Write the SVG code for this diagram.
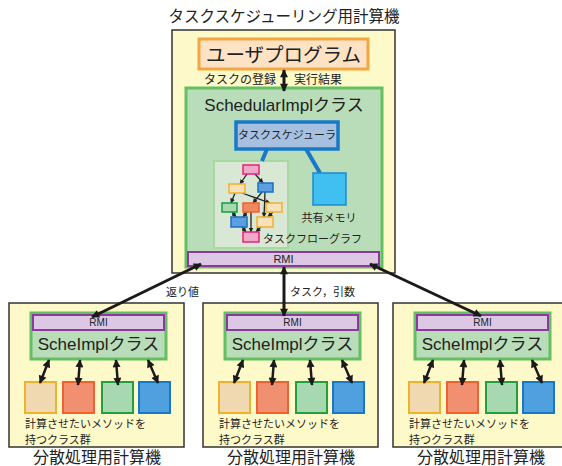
<svg xmlns="http://www.w3.org/2000/svg" width="562" height="466" viewBox="0 0 562 466">
<defs>
<marker id="ah" viewBox="0 0 10 10" refX="9" refY="5" markerWidth="9" markerHeight="8" markerUnits="userSpaceOnUse" orient="auto-start-reverse"><path d="M0,0 L10,5 L0,10 z" fill="#1a1a1a"/></marker>
<marker id="sa" viewBox="0 0 10 10" refX="9" refY="5" markerWidth="5" markerHeight="5" markerUnits="userSpaceOnUse" orient="auto"><path d="M0,0 L10,5 L0,10 z" fill="#222"/></marker>
<style>
text{font-family:"Liberation Sans","Noto Sans CJK JP",sans-serif;fill:#222}
.mc{fill:#fef9c8;stroke:#333;stroke-width:1.5}
.cls{fill:#b9dcb9;stroke:#62bf62;stroke-width:3}
.rmi{fill:#dcc8e4;stroke:#8a3a9a;stroke-width:2}
.big{stroke:#1a1a1a;stroke-width:3;fill:none;marker-start:url(#ah);marker-end:url(#ah)}
.mid{stroke:#1a1a1a;stroke-width:2.5;fill:none;marker-start:url(#ah);marker-end:url(#ah)}
.fe{stroke:#222;stroke-width:1.3;fill:none;marker-end:url(#sa)}
.pk{fill:#f0a8c8;stroke:#e8207a;stroke-width:1.5}
.or{fill:#f8e0b8;stroke:#f0b030;stroke-width:1.5}
.bl{fill:#5aa0e0;stroke:#1a70c0;stroke-width:1.5}
.gr{fill:#a8d8b0;stroke:#10a040;stroke-width:1.5}
.rd{fill:#f08860;stroke:#f06030;stroke-width:1.5}
.s1{fill:#f0d8b0;stroke:#f0b030;stroke-width:2}
.s2{fill:#f09070;stroke:#f06030;stroke-width:2}
.s3{fill:#a8d8b0;stroke:#20a040;stroke-width:2}
.s4{fill:#50a0e0;stroke:#1878c8;stroke-width:2}
</style>
</defs>

<g id="scheduler-machine">
<text x="284" y="22" font-size="15.5" text-anchor="middle">タスクスケジューリング用計算機</text>
<rect class="mc" x="172" y="30" width="223" height="243"/>
</g>

<g id="user-program">
<rect x="199" y="39" width="169" height="30" fill="#fde2c4" stroke="#f4a640" stroke-width="3"/>
<text x="283.5" y="62" font-size="19.5" text-anchor="middle">ユーザプログラム</text>
</g>

<g id="schedular-impl">
<rect class="cls" x="186" y="88" width="196" height="179"/>
<text x="284" y="111" font-size="17" text-anchor="middle">SchedularImplクラス</text>
</g>

<g id="flow-panel">
<rect x="214" y="161" width="74" height="87" fill="#d8e8d4" stroke="#a8d8a0" stroke-width="2"/>
</g>

<g id="links-scheduler">
<line x1="267" y1="149" x2="262" y2="161" stroke="#1a78c8" stroke-width="4"/>
<line x1="306" y1="149" x2="320" y2="173" stroke="#1a78c8" stroke-width="4"/>
</g>

<g id="task-scheduler">
<rect x="236" y="122" width="102" height="27" fill="#a8c0e0" stroke="#1a78c8" stroke-width="3.5"/>
<text x="287" y="139" font-size="11" text-anchor="middle">タスクスケジューラ</text>
</g>

<g id="shared-memory">
<rect x="313" y="173" width="33" height="32" fill="#40c0f0" stroke="#1a8ad0" stroke-width="1.5"/>
<text x="329" y="222" font-size="11" text-anchor="middle">共有メモリ</text>
</g>

<g id="flow-graph">
<g id="flow-edges">
<line class="fe" x1="247" y1="174" x2="240" y2="184"/>
<line class="fe" x1="255" y1="174" x2="263" y2="183"/>
<line class="fe" x1="235" y1="193" x2="231" y2="203"/>
<line class="fe" x1="242" y1="193" x2="270" y2="203"/>
<line class="fe" x1="262" y1="192" x2="253" y2="203"/>
<line class="fe" x1="265" y1="192" x2="264" y2="217"/>
<line class="fe" x1="232" y1="212" x2="236" y2="217"/>
<line class="fe" x1="247" y1="212" x2="243" y2="217"/>
<line class="fe" x1="251" y1="212" x2="251" y2="232"/>
<line class="fe" x1="273" y1="212" x2="268" y2="217"/>
<line class="fe" x1="242" y1="227" x2="246" y2="232"/>
<line class="fe" x1="261" y1="227" x2="256" y2="232"/>
</g>
<rect class="pk" x="243" y="165" width="16" height="9"/>
<rect class="or" x="229" y="184" width="16" height="9"/>
<rect class="bl" x="258" y="183" width="15" height="9"/>
<rect class="gr" x="222" y="203" width="15" height="9"/>
<rect class="rd" x="243" y="203" width="16" height="9"/>
<rect class="or" x="266" y="203" width="16" height="9"/>
<rect class="bl" x="231" y="217" width="16" height="10"/>
<rect class="or" x="257" y="217" width="16" height="10"/>
<rect class="pk" x="243" y="232" width="16" height="10"/>
<text x="263" y="243" font-size="11">タスクフローグラフ</text>
</g>

<g id="rmi-top">
<rect class="rmi" x="188" y="252" width="191" height="14"/>
<text x="283.5" y="263" font-size="11" text-anchor="middle">RMI</text>
</g>

<g id="worker-left">
<rect class="mc" x="9" y="303" width="175" height="144"/>
<rect class="cls" x="31" y="313" width="135" height="46"/>
<rect class="rmi" x="33" y="315" width="131" height="15"/>
<text x="98.5" y="326" font-size="10" text-anchor="middle">RMI</text>
<text x="98.5" y="350" font-size="17" text-anchor="middle">ScheImplクラス</text>
<rect class="s1" x="25" y="382" width="31" height="31"/>
<rect class="s2" x="63" y="382" width="31" height="31"/>
<rect class="s3" x="102" y="382" width="31" height="31"/>
<rect class="s4" x="139" y="382" width="31" height="31"/>
<line class="mid" x1="49" y1="360" x2="40" y2="383"/>
<line class="mid" x1="80" y1="360" x2="78" y2="385"/>
<line class="mid" x1="116" y1="360" x2="118" y2="385"/>
<line class="mid" x1="148" y1="360" x2="158" y2="383"/>
<text x="25" y="428" font-size="11">計算させたいメソッドを</text>
<text x="25" y="444" font-size="11">持つクラス群</text>
<text x="97" y="463" font-size="16" text-anchor="middle">分散処理用計算機</text>
</g>

<g id="worker-middle" transform="translate(194,0)">
<rect class="mc" x="9" y="303" width="175" height="144"/>
<rect class="cls" x="31" y="313" width="135" height="46"/>
<rect class="rmi" x="33" y="315" width="131" height="15"/>
<text x="98.5" y="326" font-size="10" text-anchor="middle">RMI</text>
<text x="98.5" y="350" font-size="17" text-anchor="middle">ScheImplクラス</text>
<rect class="s1" x="25" y="382" width="31" height="31"/>
<rect class="s2" x="63" y="382" width="31" height="31"/>
<rect class="s3" x="102" y="382" width="31" height="31"/>
<rect class="s4" x="139" y="382" width="31" height="31"/>
<line class="mid" x1="49" y1="360" x2="40" y2="383"/>
<line class="mid" x1="80" y1="360" x2="78" y2="385"/>
<line class="mid" x1="116" y1="360" x2="118" y2="385"/>
<line class="mid" x1="148" y1="360" x2="158" y2="383"/>
<text x="25" y="428" font-size="11">計算させたいメソッドを</text>
<text x="25" y="444" font-size="11">持つクラス群</text>
<text x="97" y="463" font-size="16" text-anchor="middle">分散処理用計算機</text>
</g>

<g id="worker-right" transform="translate(384,0)">
<rect class="mc" x="9" y="303" width="175" height="144"/>
<rect class="cls" x="31" y="313" width="135" height="46"/>
<rect class="rmi" x="33" y="315" width="131" height="15"/>
<text x="98.5" y="326" font-size="10" text-anchor="middle">RMI</text>
<text x="98.5" y="350" font-size="17" text-anchor="middle">ScheImplクラス</text>
<rect class="s1" x="25" y="382" width="31" height="31"/>
<rect class="s2" x="63" y="382" width="31" height="31"/>
<rect class="s3" x="102" y="382" width="31" height="31"/>
<rect class="s4" x="139" y="382" width="31" height="31"/>
<line class="mid" x1="49" y1="360" x2="40" y2="383"/>
<line class="mid" x1="80" y1="360" x2="78" y2="385"/>
<line class="mid" x1="116" y1="360" x2="118" y2="385"/>
<line class="mid" x1="148" y1="360" x2="158" y2="383"/>
<text x="25" y="428" font-size="11">計算させたいメソッドを</text>
<text x="25" y="444" font-size="11">持つクラス群</text>
<text x="97" y="463" font-size="16" text-anchor="middle">分散処理用計算機</text>
</g>

<g id="connectors">
<line class="big" x1="284" y1="70" x2="284" y2="91"/>
<text x="276" y="84" font-size="12" text-anchor="end">タスクの登録</text>
<text x="294" y="84" font-size="12">実行結果</text>
<line class="big" x1="201" y1="264" x2="92" y2="317"/>
<text x="199" y="296" font-size="11" text-anchor="end">返り値</text>
<line class="big" x1="284" y1="267" x2="284" y2="316"/>
<text x="290" y="296" font-size="11">タスク，引数</text>
<line class="big" x1="370" y1="264" x2="481" y2="316"/>
</g>
</svg>
